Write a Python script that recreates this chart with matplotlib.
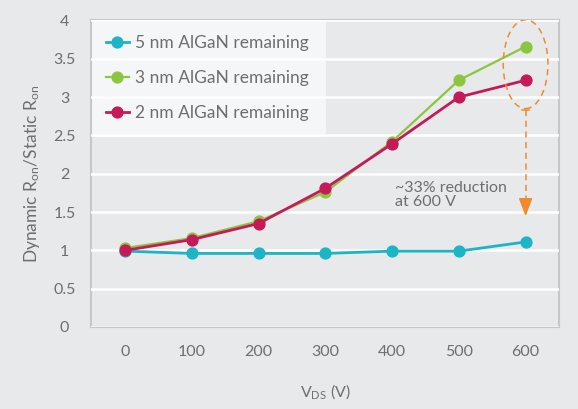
import matplotlib
matplotlib.use('Agg')
import matplotlib.pyplot as plt
from matplotlib.patches import Ellipse, Rectangle

plt.rcParams['font.family'] = ['Lato', 'DejaVu Sans']
plt.rcParams['mathtext.default'] = 'regular'

# values
vds = [0, 100, 200, 300, 400, 500, 600]
ron_5nm = [0.99, 0.96, 0.96, 0.96, 0.99, 0.99, 1.11]
ron_3nm = [1.03, 1.16, 1.38, 1.76, 2.42, 3.22, 3.66]
ron_2nm = [1.00, 1.14, 1.35, 1.81, 2.39, 3.00, 3.22]
yticks = [0, 0.5, 1, 1.5, 2, 2.5, 3, 3.5, 4]
ytick_labels = ['0', '0.5', '1', '1.5', '2', '2.5', '3', '3.5', '4']
note = '~33% reduction\nat 600 V'

bg = '#E8E9EB'
text_col = '#6D6E71'
teal = '#1BB5C5'
green = '#8CC63F'
crimson = '#C51A5A'
orange = '#F08A2C'

fig = plt.figure(figsize=(5.78, 4.09), dpi=100, facecolor=bg)
ax = fig.add_axes([0.1574, 0.2005, 0.8097, 0.7494])
ax.set_facecolor(bg)

# lighter panel behind the legend, under the grid
ax.add_patch(Rectangle((0, 0.62), 0.502, 0.38, transform=ax.transAxes,
                       facecolor='#F5F6F7', edgecolor='none', zorder=0.5))

ax.plot(vds, ron_5nm, '-o', color=teal, lw=2, ms=7.8, label='5 nm AlGaN remaining', zorder=3)
ax.plot(vds, ron_3nm, '-o', color=green, lw=1.6, ms=7.8, label='3 nm AlGaN remaining', zorder=3)
ax.plot(vds, ron_2nm, '-o', color=crimson, lw=2, ms=7.8, label='2 nm AlGaN remaining', zorder=3)

# dashed ellipse around the 600 V points and dashed arrow down
ax.add_patch(Ellipse((600, 3.43), width=67, height=1.16, fill=False,
                     edgecolor=orange, linestyle=(0, (4, 3)), lw=1.1, zorder=4))
ax.plot([600, 600], [2.83, 1.6], color=orange, linestyle=(0, (4, 3)), lw=1.1, zorder=4)
ax.plot([595, 605], [2.83, 2.83], color=orange, lw=1.1, zorder=4)
ax.annotate('', xy=(600, 1.41), xytext=(600, 1.63),
            arrowprops=dict(arrowstyle='-|>,head_length=1.1,head_width=0.42',
                            color=orange, lw=1.1), zorder=4)

ax.text(404, 1.91, note, ha='left', va='top', fontsize=11.5, color=text_col,
        linespacing=1.05)

ax.set_xlim(-51, 650)
ax.set_ylim(0, 4)
ax.set_xticks(vds)
ax.set_yticks(yticks)
ax.set_yticklabels(ytick_labels)
ax.tick_params(axis='both', length=0, labelsize=11.5, labelcolor=text_col)
ax.tick_params(axis='y', pad=19)
ax.tick_params(axis='x', pad=13)
for lab in ax.get_yticklabels():
    lab.set_horizontalalignment('center')

ax.grid(axis='y', color='white', lw=1.8, zorder=1)
ax.set_axisbelow(False)
for sp in ax.spines.values():
    sp.set_color('#C5C7C9')
    sp.set_linewidth(1.5)

ax.set_ylabel('Dynamic R$_{on}$/Static R$_{on}$', fontsize=12.5, color=text_col, labelpad=8)
ax.set_xlabel('V$_{DS}$ (V)', fontsize=11.5, color=text_col, labelpad=17)

leg = ax.legend(loc='upper left', bbox_to_anchor=(0, 1), borderaxespad=0,
                frameon=False, fontsize=12.5, handlelength=1.35, handletextpad=0.35,
                labelspacing=1.1, borderpad=0.85, labelcolor=text_col)

fig.savefig('out.png', dpi=100, facecolor=bg)
